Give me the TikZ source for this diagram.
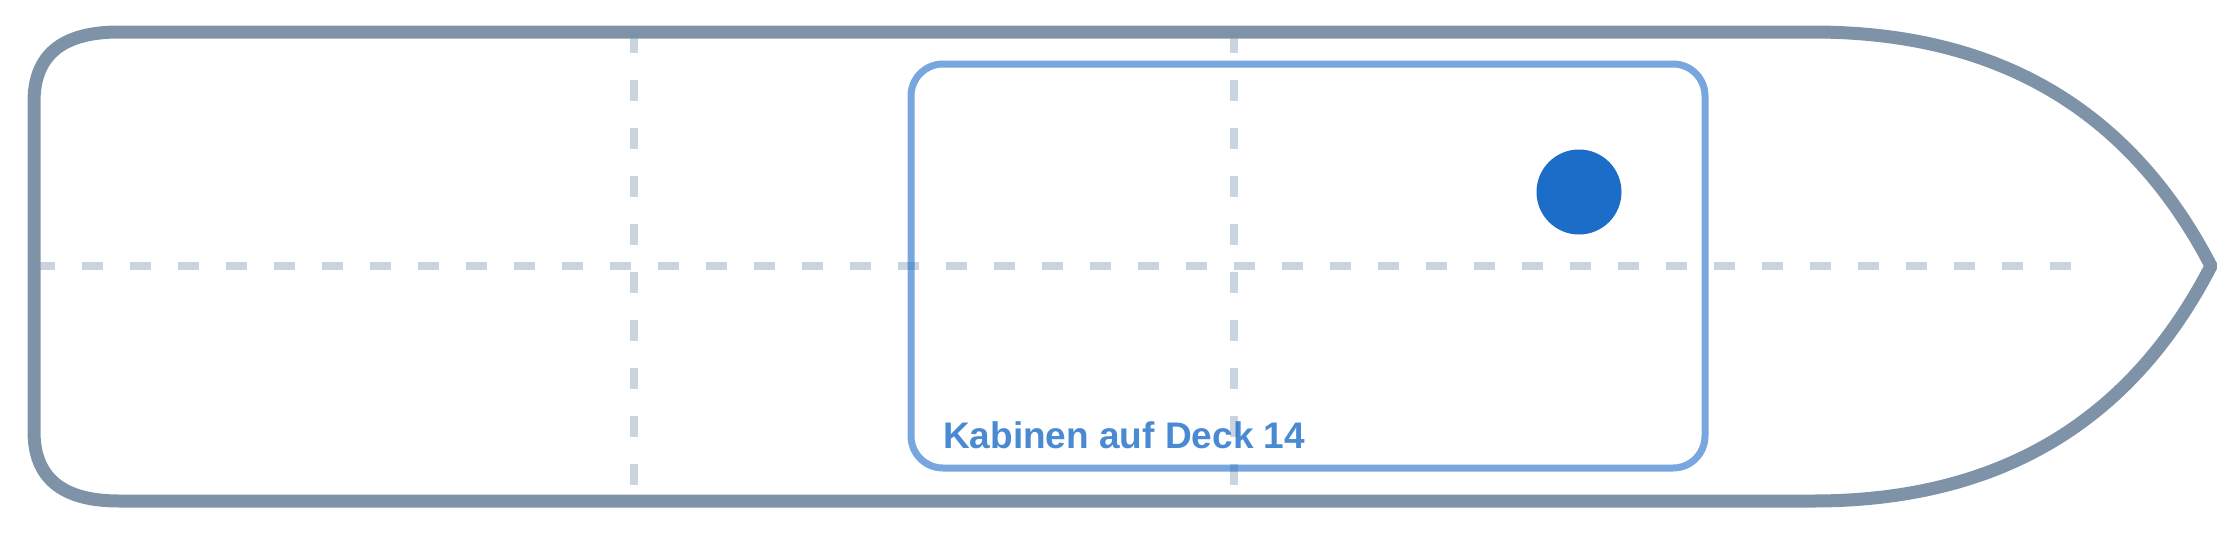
\documentclass[tikz,border=0pt]{standalone}
\usepackage{fontspec}
\setmainfont{Liberation Sans}

\definecolor{hullgray}{HTML}{7F93A8}
\definecolor{linegray}{HTML}{C9D4DF}
\definecolor{cabinblue}{HTML}{1C6DC8}

\tikzset{
  hull/.style={draw=hullgray, line width=13pt, line join=bevel},
  deckline/.style={draw=linegray, line width=8pt, dash pattern=on 21pt off 27pt},
  cabinbox/.style={draw=cabinblue, draw opacity=0.6, line width=7pt, rounded corners=32pt},
  decklabel/.style={text=cabinblue, text opacity=0.8, inner sep=0pt, anchor=base west,
    font=\bfseries\fontsize{37}{44}\selectfont}
}

\begin{document}
\begin{tikzpicture}[x=1pt, y=-1pt]
    \useasboundingbox (0, 0) rectangle (2240, 533);

    \draw [deckline] (34, 266) -- (2072, 266);
    \draw [deckline] (634, 32) -- (634, 501);
    \draw [deckline] (1234, 32) -- (1234, 501);

    \draw [hull] (119, 32) -- (1813, 32)
      .. controls (1998, 32) and (2130, 110) .. (2211, 266)
      .. controls (2130, 423) and (1998, 501) .. (1813, 501)
      -- (119, 501)
      .. controls (62, 501) and (34, 478) .. (34, 431)
      -- (34, 102)
      .. controls (34, 55) and (62, 32) .. (119, 32) -- cycle;

    \draw [cabinbox] (911, 64) rectangle (1705, 468);
    \node [decklabel] (deck) at (943, 448) {Kabinen auf Deck 14};
    \fill [cabinblue] (1579, 192) circle[radius=42.5];
  \end{tikzpicture}
\end{document}
